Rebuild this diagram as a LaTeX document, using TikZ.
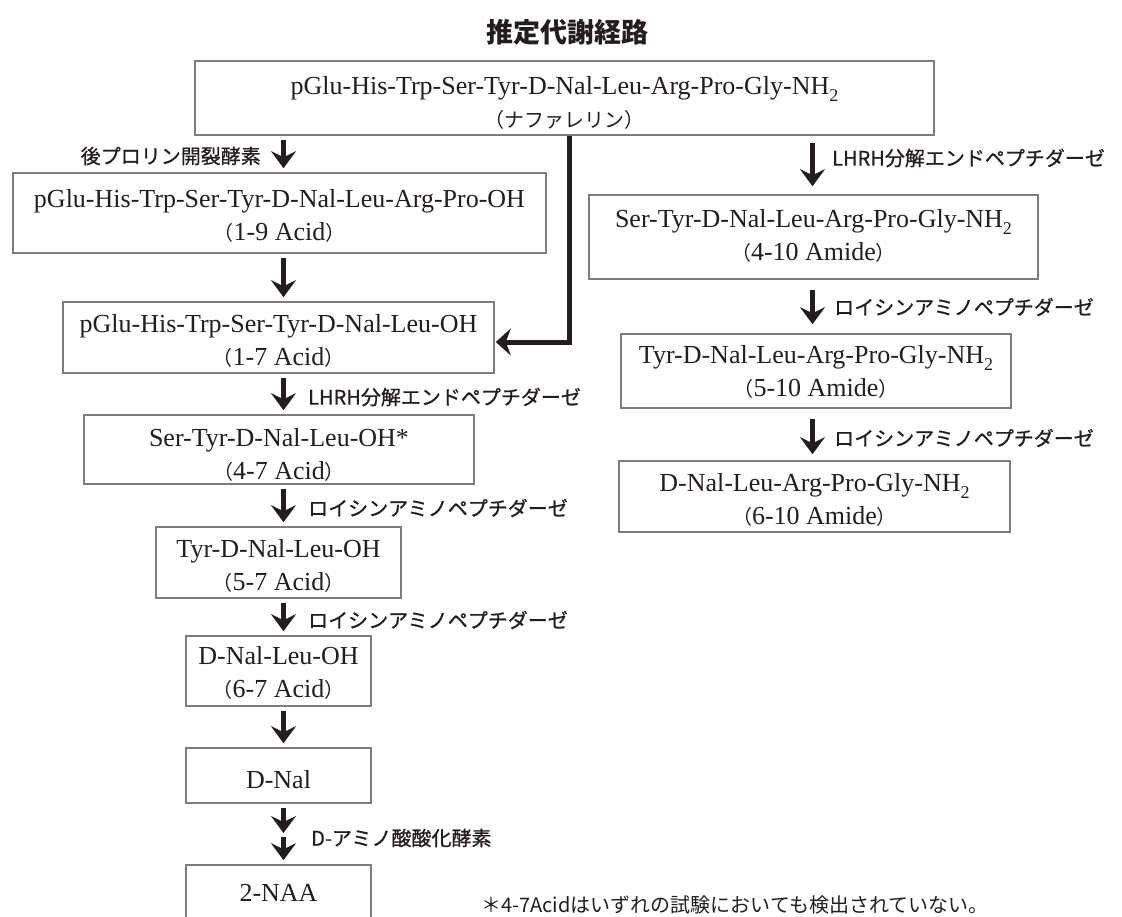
\documentclass[tikz,border=0pt]{standalone}
\usepackage{fontspec}
\setmainfont{Liberation Serif}
\newfontfamily\cjk{Noto Sans CJK JP}
\newfontfamily\cjkm[FakeBold=0.8]{Noto Sans CJK JP}
\usetikzlibrary{arrows.meta}
\definecolor{boxgray}{RGB}{125,125,125}
\definecolor{ink}{RGB}{35,30,30}
\newcommand\subtwo{\raisebox{-0.28em}{\fontsize{18}{18}\selectfont 2}}
\newcommand\jpar[1]{{\cjk\fontsize{20}{33}\selectfont #1}}
\newcommand\twolines[3]{\raisebox{#1}[\height][\depth]{\begin{tabular}{@{}c@{}}#2\\#3\end{tabular}}}
\begin{document}
\begin{tikzpicture}[x=1pt,y=-1pt,
  box/.style={draw=boxgray, line width=1.6pt, inner sep=0pt,
    font=\fontsize{26}{33}\selectfont, text=ink},
  lift/.style={execute at begin node={\rule{0pt}{#1}}},
  arr/.style={draw=ink, line width=4.2pt, -{Stealth[length=17pt,width=25pt,inset=6pt]},
    shorten <=4pt, shorten >=4pt},
  arrlong/.style={draw=ink, line width=5pt, -{Stealth[length=15pt,width=27pt,inset=5pt]},
    shorten >=1pt},
  lab/.style={font=\cjkm\fontsize{20}{24}\selectfont, inner sep=0pt, text=ink},
  note/.style={font=\cjk\fontsize{20}{24}\selectfont, inner sep=0pt, text=ink}
]
\useasboundingbox (0,0) rectangle (1122,916);
\fill[white] (0,0) rectangle (1122,916);

% title
\node[font=\cjk\bfseries\fontsize{27}{30}\selectfont, text=ink, inner sep=0pt] (title) at (567,32) {推定代謝経路};

% boxes
\node[box, minimum width=739pt, minimum height=74pt] (top) at (564.5,98)
  {\twolines{-6pt}{pGlu-His-Trp-Ser-Tyr-D-Nal-Leu-Arg-Pro-Gly-NH\subtwo}{\jpar{（ナファレリン）}}};
\node[box, minimum width=533pt, minimum height=80pt] (b19) at (279.5,213)
  {\twolines{-4.5pt}{pGlu-His-Trp-Ser-Tyr-D-Nal-Leu-Arg-Pro-OH}{\jpar{（}1-9 Acid\jpar{）}}};
\node[box, minimum width=431pt, minimum height=71pt] (b17) at (278.5,337.5)
  {\twolines{-5pt}{pGlu-His-Trp-Ser-Tyr-D-Nal-Leu-OH}{\jpar{（}1-7 Acid\jpar{）}}};
\node[box, minimum width=390pt, minimum height=69pt] (b47) at (279,449.5)
  {\twolines{-6.5pt}{Ser-Tyr-D-Nal-Leu-OH*}{\jpar{（}4-7 Acid\jpar{）}}};
\node[box, minimum width=245pt, minimum height=71pt] (b57) at (278.5,562.5)
  {\twolines{-4.5pt}{Tyr-D-Nal-Leu-OH}{\jpar{（}5-7 Acid\jpar{）}}};
\node[box, minimum width=185pt, minimum height=70pt] (b67) at (278.5,671)
  {\twolines{-3.5pt}{D-Nal-Leu-OH}{\jpar{（}6-7 Acid\jpar{）}}};
\node[box, lift=26pt, minimum width=185pt, minimum height=55pt] (dnal) at (278.5,775.5) {D-Nal};
\node[box, minimum width=185pt, minimum height=56pt] (naa) at (278.5,893) {2-NAA};

\node[box, minimum width=449pt, minimum height=84pt] (b410) at (813.5,237)
  {\twolines{-0.5pt}{Ser-Tyr-D-Nal-Leu-Arg-Pro-Gly-NH\subtwo}{\jpar{（}4-10 Amide\jpar{）}}};
\node[box, minimum width=390pt, minimum height=74pt] (b510) at (816,371)
  {\twolines{-2.5pt}{Tyr-D-Nal-Leu-Arg-Pro-Gly-NH\subtwo}{\jpar{（}5-10 Amide\jpar{）}}};
\node[box, minimum width=391pt, minimum height=71pt] (b610) at (814.5,496.5)
  {\twolines{-5pt}{D-Nal-Leu-Arg-Pro-Gly-NH\subtwo}{\jpar{（}6-10 Amide\jpar{）}}};

% arrow axes
\coordinate (ax) at (283.5,0);
\coordinate (bx) at (812.5,0);
\coordinate (mid) at (283.5,835);
\coordinate (corner) at (569,342);

% left column arrows
\draw[arr] (top.south -| ax) -- (b19.north -| ax);
\draw[arr] (b19.south -| ax) -- (b17.north -| ax);
\draw[arr] (b17.south -| ax) -- (b47.north -| ax);
\draw[arr] (b47.south -| ax) -- (b57.north -| ax);
\draw[arr] (b57.south -| ax) -- (b67.north -| ax);
\draw[arr] (b67.south -| ax) -- (dnal.north -| ax);
\draw[arr, shorten >=2pt] (dnal.south -| ax) -- (mid);
\draw[arr, shorten <=2pt] (mid) -- (naa.north -| ax);

% right column arrows
\draw[arr, shorten <=7pt, shorten >=8pt] (top.south -| bx) -- (b410.north -| bx);
\draw[arr, shorten <=10pt, shorten >=9pt] (b410.south -| bx) -- (b510.north -| bx);
\draw[arr, shorten <=10pt, shorten >=6pt] (b510.south -| bx) -- (b610.north -| bx);

% long connector
\draw[arrlong] (top.south -| corner) -- (corner) -- (b17.east |- corner);

% enzyme labels
\node[lab, anchor=east] (l1) at (261,156) {後プロリン開裂酵素};
\node[lab, anchor=west] (r1) at (832,158) {LHRH分解エンドペプチダーゼ};
\node[lab, anchor=west] (r2) at (834,307) {ロイシンアミノペプチダーゼ};
\node[lab, anchor=west] (r3) at (834,438) {ロイシンアミノペプチダーゼ};
\node[lab, anchor=west] (l2) at (308,397) {LHRH分解エンドペプチダーゼ};
\node[lab, anchor=west] (l3) at (308,508) {ロイシンアミノペプチダーゼ};
\node[lab, anchor=west] (l4) at (308,620) {ロイシンアミノペプチダーゼ};
\node[lab, anchor=west] (l5) at (311,838) {D-アミノ酸酸化酵素};

% footnote
\node[note, anchor=west] (fn) at (481,905) {＊4-7Acidはいずれの試験においても検出されていない。};
\end{tikzpicture}
\end{document}
